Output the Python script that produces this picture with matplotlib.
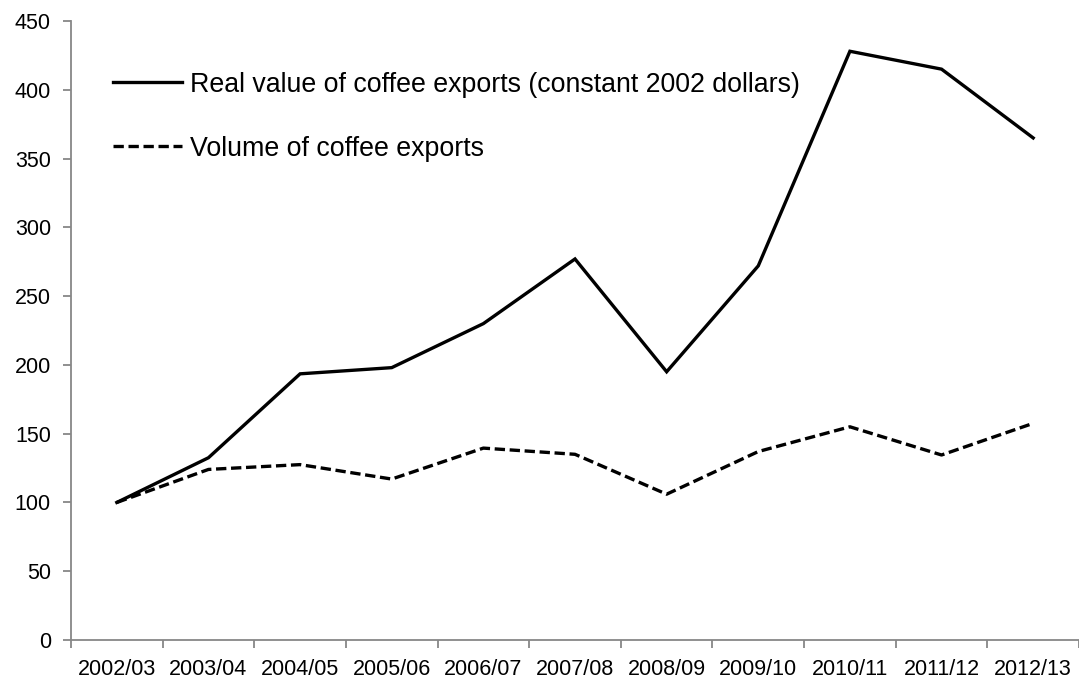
import numpy as np
import matplotlib.pyplot as plt
from matplotlib.ticker import FixedLocator, NullFormatter, FixedFormatter

plt.rcParams['font.family'] = ['Liberation Sans', 'DejaVu Sans']

# Data (index, 2002/03 = 100)
seasons = ['2002/03', '2003/04', '2004/05', '2005/06', '2006/07', '2007/08',
           '2008/09', '2009/10', '2010/11', '2011/12', '2012/13']
real_value = [100, 132.5, 193.5, 198, 230, 277, 195, 272, 428, 415, 365]
volume = [100, 124, 127.5, 117, 139.5, 135, 106, 137, 155, 134.5, 157.5]

x = np.arange(len(seasons))

fig = plt.figure(figsize=(10.79, 6.86), dpi=100)
ax = fig.add_axes([71 / 1079, 1 - 640 / 686, 1008 / 1079, 619 / 686])

ax.plot(x, real_value, color='black', linewidth=2.4, solid_joinstyle='miter',
        label='Real value of coffee exports (constant 2002 dollars)')
ax.plot(x, volume, color='black', linewidth=2.4, dashes=(3.1, 1.4),
        label='Volume of coffee exports')

ax.set_xlim(-0.5, len(seasons) - 0.5)
ax.set_ylim(0, 450)
ax.set_yticks(np.arange(0, 451, 50))

# Excel-style category axis: ticks between categories, labels at centres
ax.xaxis.set_major_locator(FixedLocator(np.arange(-0.5, len(seasons), 1.0)))
ax.xaxis.set_major_formatter(NullFormatter())
ax.xaxis.set_minor_locator(FixedLocator(x))
ax.xaxis.set_minor_formatter(FixedFormatter(seasons))

spine_col = '#878787'
for side in ['top', 'right']:
    ax.spines[side].set_visible(False)
for side in ['left', 'bottom']:
    ax.spines[side].set_color(spine_col)
    ax.spines[side].set_linewidth(1.3)

ax.tick_params(axis='y', which='major', direction='out', length=5.5, width=1.3,
               color=spine_col, labelsize=15.5, pad=9)
ax.tick_params(axis='x', which='major', direction='out', length=5.5, width=1.3,
               color=spine_col)
ax.tick_params(axis='x', which='minor', length=0, labelsize=15.5, pad=14)

leg = ax.legend(loc='upper left', bbox_to_anchor=(31 / 1008, 1 - 40 / 619),
                frameon=False, fontsize=19.3, handlelength=2.57,
                handletextpad=0.3, labelspacing=1.42, borderaxespad=0)

fig.savefig('out.png', dpi=100)
